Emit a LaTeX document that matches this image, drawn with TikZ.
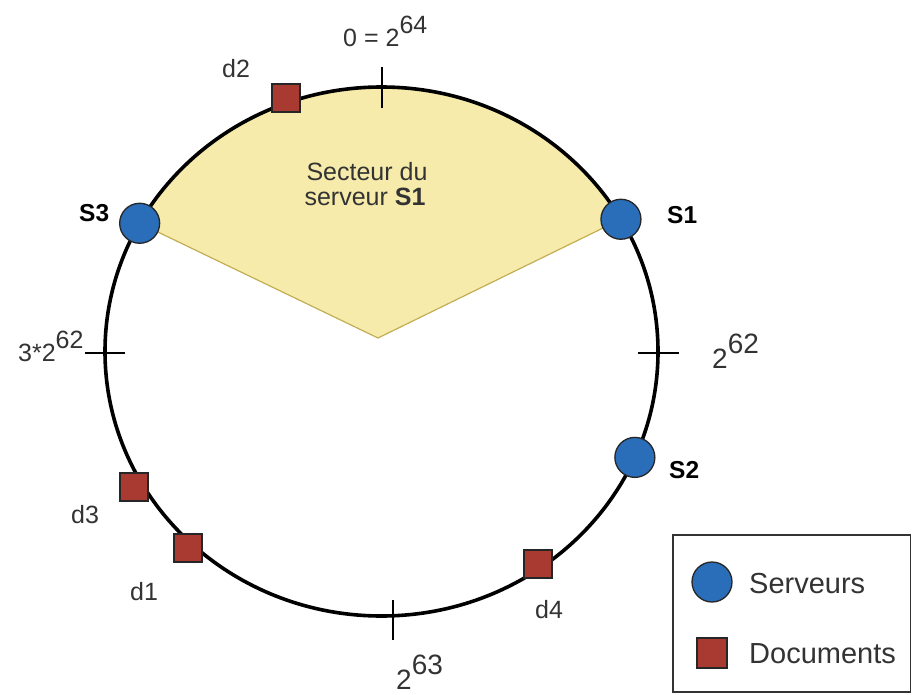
\documentclass[tikz,border=0pt]{standalone}
\usepackage{fontspec}
\setmainfont{Liberation Sans}
\usetikzlibrary{calc}
\definecolor{srvblue}{HTML}{2A6DB8}
\definecolor{docred}{HTML}{A83A32}
\definecolor{wedgefill}{HTML}{F6EBAA}
\definecolor{wedgeline}{HTML}{C2AE55}
\definecolor{txtgray}{HTML}{333333}
\newcommand{\sxp}[1]{\raisebox{0.52em}{#1}}
\begin{document}
\begin{tikzpicture}[x=1pt,y=1pt,
  server/.style={circle, draw=black!85, line width=1.3pt, fill=srvblue, minimum size=40pt, inner sep=0pt},
  docbox/.style={rectangle, draw=black!85, line width=1.3pt, fill=docred, minimum size=28pt, inner sep=0pt},
  lbl/.style={font=\fontsize{25}{28}\selectfont, text=txtgray, inner sep=0pt, anchor=base west},
  biglbl/.style={font=\fontsize{28}{32}\selectfont, text=txtgray, inner sep=0pt, anchor=base west},
  leglbl/.style={font=\fontsize{29}{32}\selectfont, text=txtgray, inner sep=0pt, anchor=base west},
  srvlbl/.style={font=\fontsize{24.5}{27}\selectfont\bfseries, text=black, inner sep=0pt, anchor=base west},
  tickmark/.style={line width=1.3pt},
  ring/.style={line width=3.6pt}]
\useasboundingbox (0,0) rectangle (912,-695);
\coordinate (c) at (381.5,-351.5);
\coordinate (apex) at (378,-338);
% sector
\path[fill=wedgefill, draw=wedgeline, line width=1.2pt]
  (apex) -- ($(c)+(151:276.5 and 264.5)$)
  arc[start angle=151, end angle=30, x radius=276.5, y radius=264.5] -- cycle;
% ring
\draw[ring] (c) ellipse[x radius=276.5, y radius=264.5];
% ticks
\coordinate (ta1) at (382,-67); \coordinate (ta2) at (382,-108);
\coordinate (tl1) at (85,-353);  \coordinate (tl2) at (125,-353);
\coordinate (tr1) at (638,-353); \coordinate (tr2) at (679,-353);
\coordinate (tb1) at (393,-600); \coordinate (tb2) at (393,-640);
\draw[tickmark] (ta1) -- (ta2);
\draw[tickmark] (tl1) -- (tl2);
\draw[tickmark] (tr1) -- (tr2);
\draw[tickmark] (tb1) -- (tb2);
% servers
\node[server] (s3) at ($(c)+(151:276.5 and 264.5)$) {};
\node[server] (s1) at ($(c)+(30:276.5 and 264.5)$) {};
\node[server] (s2) at ($(c)+(-23.6:276.5 and 264.5)$) {};
% documents
\node[docbox] (d2) at (286,-98) {};
\node[docbox] (d3) at (134,-487) {};
\node[docbox] (d1) at (188,-548) {};
\node[docbox] (d4) at (538,-564) {};
% labels
\node[lbl] (l0) at (343,-47) {0 = 2\sxp{64}};
\node[lbl] (ld2) at (222,-78) {d2};
\node[srvlbl] (ls3) at (79,-221) {S3};
\node[srvlbl] (ls1) at (667,-223) {S1};
\node[srvlbl] (ls2) at (669,-478) {S2};
\node[lbl, anchor=base] (sec1) at (367,-180) {Secteur du};
\node[lbl, anchor=base] (sec2) at (365,-205) {serveur \textbf{S1}};
\node[lbl] (l3) at (18,-361) {3*2\sxp{62}};
\node[biglbl] (l62) at (712,-368) {2\sxp{62}};
\node[biglbl] (l63) at (396,-689) {2\sxp{63}};
\node[lbl] (ld3) at (71,-523) {d3};
\node[lbl] (ld1) at (130,-600) {d1};
\node[lbl] (ld4) at (535,-618) {d4};
% legend
\draw[line width=1.6pt, draw=black!80] (673,-535) rectangle (910.5,-692);
\node[server] (legs) at (712,-582) {};
\node[docbox, minimum size=30pt] (legd) at (712,-653) {};
\node[leglbl] (legst) at (749,-593) {Serveurs};
\node[leglbl] (legdt) at (749,-663) {Documents};
\end{tikzpicture}
\end{document}
